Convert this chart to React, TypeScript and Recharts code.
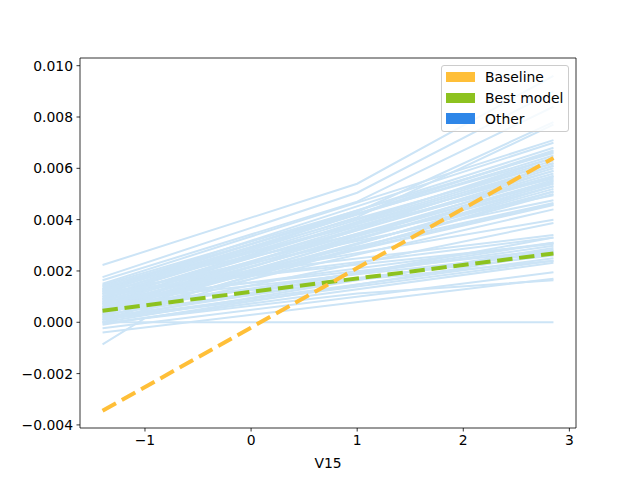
import React from "react";
import { LineChart, Line, XAxis, YAxis, ReferenceLine } from "recharts";

const X_POINTS = [-1.4, -1.0, 1.0, 2.85];

// each row: y at X_POINTS (null = no vertex there)
const otherLines: (number | null)[][] = [
  [0.00223, null, 0.0054, 0.0096],
  [0.00176, null, 0.00505, 0.009],
  [0.00164, null, 0.0047, 0.0084],
  [0.0013, null, 0.0043, 0.0078],
  [0.001, null, 0.0041, 0.0077],
  [0.0015, null, null, 0.0071],
  [0.0013, null, null, 0.007],
  [0.0012, null, null, 0.0068],
  [0.00145, null, null, 0.0066],
  [0.0011, null, null, 0.00665],
  [0.001, null, null, 0.0067],
  [0.0012, null, null, 0.0065],
  [0.0007, null, null, 0.0064],
  [0.0014, null, null, 0.0064],
  [0.001, null, null, 0.0063],
  [0.00125, null, null, 0.0062],
  [0.0009, null, null, 0.0062],
  [0.0009, null, null, 0.0061],
  [0.0005, null, null, 0.0061],
  [0.0008, null, null, 0.006],
  [0.00115, null, null, 0.0059],
  [0.0006, null, null, 0.0059],
  [0.0007, null, null, 0.0058],
  [0.00095, null, null, 0.0057],
  [0.0004, null, null, 0.0057],
  [0.0006, null, null, 0.00565],
  [0.00135, null, null, 0.0056],
  [0.0005, null, null, 0.00555],
  [0.0003, null, null, 0.0055],
  [0.00085, null, null, 0.00545],
  [0.0004, null, null, 0.0054],
  [0.00065, null, null, 0.0053],
  [0.0001, null, null, 0.0053],
  [0.0003, null, null, 0.0052],
  [0.00045, null, null, 0.0051],
  [0.0, null, null, 0.0051],
  [0.0002, null, null, 0.005],
  [0.0014, null, null, 0.00495],
  [0.0011, null, null, 0.00476],
  [0.00075, null, null, 0.00465],
  [0.0006, null, null, 0.0046],
  [0.00055, null, null, 0.00457],
  [0.00035, null, null, 0.0044],
  [0.001, null, null, 0.004],
  [0.00025, null, null, 0.00387],
  [0.0013, null, null, 0.0034],
  [0.0001, null, null, 0.0033],
  [0.0011, null, null, 0.0033],
  [0.0008, null, null, 0.0031],
  [0.0004, null, null, 0.0031],
  [0.0012, null, null, 0.00305],
  [0.0005, null, null, 0.00298],
  [0.0, null, null, 0.0029],
  [0.0009, null, null, 0.00283],
  [0.0002, null, null, 0.0028],
  [0.0003, null, null, 0.00275],
  [0.0008, null, null, 0.0027],
  [-0.0001, null, null, 0.00268],
  [0.0006, null, null, 0.0026],
  [0.00015, null, null, 0.0025],
  [0.0001, null, null, 0.0024],
  [0.0007, null, null, 0.0024],
  [-0.00005, null, null, 0.00232],
  [-0.00023, null, null, 0.00195],
  [-0.0004, null, null, 0.0017],
  [-0.00086, 0.00016, 0.00112, 0.00164],
  [0.0, null, null, 0.0],
];

const baselineX = [-1.4, 2.85];
const baselineY = [-0.00345, 0.0064];
const bestX = [-1.4, 2.85];
const bestY = [0.00045, 0.00268];

const xTicks = [-1, 0, 1, 2, 3];
const yTicks = [-0.004, -0.002, 0, 0.002, 0.004, 0.006, 0.008, 0.01];
const X_DOMAIN: [number, number] = [-1.6125, 3.0625];
const Y_DOMAIN: [number, number] = [-0.00412, 0.0103];

const legendItems = [
  { label: "Baseline", color: "#ffbf38" },
  { label: "Best model", color: "#8dc21f" },
  { label: "Other", color: "#2e86e8" },
];

const FONT = "DejaVu Sans, sans-serif";
const minus = (s: string) => s.replace("-", "\u2212");

const toPts = (xs: number[], ys: (number | null)[]) =>
  xs.map((x, i) => ({ x, y: ys[i] })).filter((p) => p.y !== null && p.y !== undefined);

export default function App() {
  const tickStyle = { fill: "#000", fontSize: 13.9, fontFamily: FONT };
  return (
    <div style={{ position: "absolute", left: 0, top: 0, width: 640, height: 480, background: "#fff" }}>
      <LineChart width={640} height={480} margin={{ top: 58, right: 64, left: 0, bottom: 0 }}>
        <XAxis
          dataKey="x"
          type="number"
          domain={X_DOMAIN}
          ticks={xTicks}
          allowDataOverflow
          height={52}
          tickSize={3.5}
          tickMargin={3.5}
          stroke="#000"
          strokeWidth={0.8}
          tick={tickStyle}
          tickFormatter={(v: number) => minus(String(v))}
          label={{ value: "V15", position: "insideBottom", offset: 12, fill: "#000", fontSize: 13.9, fontFamily: FONT }}
        />
        <YAxis
          type="number"
          domain={Y_DOMAIN}
          ticks={yTicks}
          allowDataOverflow
          width={80}
          tickSize={3.5}
          tickMargin={3.5}
          stroke="#000"
          strokeWidth={0.8}
          tick={tickStyle}
          tickFormatter={(v: number) => minus(v.toFixed(3))}
        />
        {otherLines.map((ys, i) => (
          <Line
            key={"o" + i}
            data={toPts(X_POINTS, ys)}
            dataKey="y"
            stroke="#cce4f6"
            strokeWidth={2}
            dot={false}
            activeDot={false}
            isAnimationActive={false}
          />
        ))}
        <Line
          data={toPts(bestX, bestY)}
          dataKey="y"
          stroke="#8dc21f"
          strokeWidth={4}
          strokeDasharray="15.4 6.7"
          dot={false}
          activeDot={false}
          isAnimationActive={false}
        />
        <Line
          data={toPts(baselineX, baselineY)}
          dataKey="y"
          stroke="#ffbf38"
          strokeWidth={4}
          strokeDasharray="15.4 6.7"
          dot={false}
          activeDot={false}
          isAnimationActive={false}
        />
        <ReferenceLine y={Y_DOMAIN[1]} stroke="#000" strokeWidth={0.8} ifOverflow="extendDomain" />
        <ReferenceLine x={X_DOMAIN[1]} stroke="#000" strokeWidth={0.8} ifOverflow="extendDomain" />
      </LineChart>
      <div
        style={{
          position: "absolute",
          left: 441,
          top: 65,
          width: 128,
          height: 67,
          boxSizing: "border-box",
          border: "1px solid #cccccc",
          borderRadius: 3,
          background: "rgba(255,255,255,0.8)",
          fontFamily: FONT,
          fontSize: 13.9,
          color: "#000",
        }}
      >
        {legendItems.map((it, i) => (
          <div key={it.label} style={{ position: "absolute", left: 4, top: 5 + i * 20.8, height: 12, display: "flex", alignItems: "center" }}>
            <div style={{ width: 29, height: 10.4, background: it.color }} />
            <span style={{ marginLeft: 10, lineHeight: "12px", whiteSpace: "nowrap" }}>{it.label}</span>
          </div>
        ))}
      </div>
    </div>
  );
}
